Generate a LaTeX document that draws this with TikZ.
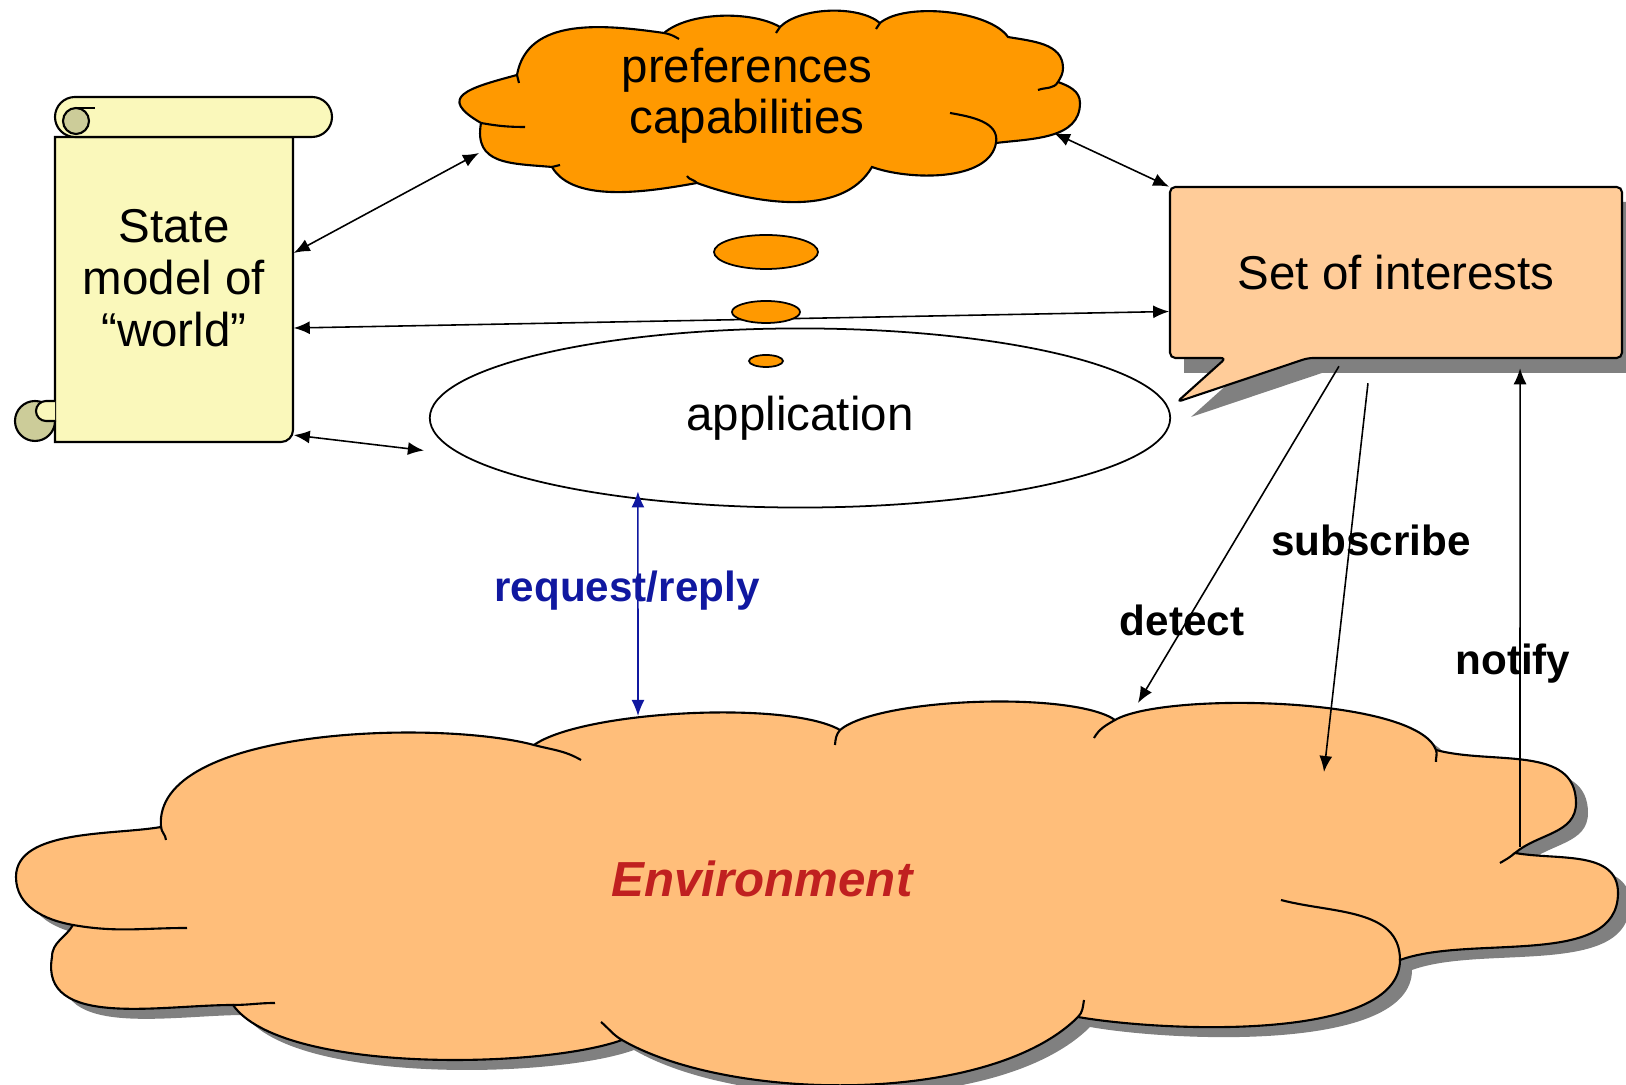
\documentclass[tikz,border=0pt]{standalone}
\usepackage{fontspec}
\setmainfont{Liberation Sans}
\usepackage{tikz}
\usetikzlibrary{arrows.meta}
\usetikzlibrary{shapes.geometric}
\definecolor{ScrollYellow}{RGB}{250,248,187}
\definecolor{ScrollCurl}{RGB}{204,204,153}
\definecolor{PrefOrange}{RGB}{255,153,0}
\definecolor{InterestPeach}{RGB}{255,204,153}
\definecolor{EnvPeach}{RGB}{255,190,122}
\definecolor{ShadowGray}{RGB}{128,128,128}
\definecolor{ReqBlue}{RGB}{16,24,160}
\definecolor{EnvRed}{RGB}{192,32,32}
\newcommand{\EnvCloudPath}{(161,258)
to[out=95,in=165,looseness=0.67] (534,340)
to[out=35,in=150,looseness=0.5] (840,355)
to[out=40,in=145,looseness=0.47] (1115,365)
to[out=30,in=110,looseness=0.45] (1436,335)
to[out=-15,in=90] (1576,282)
to[out=-90,in=40] (1515,232)
to[out=-10,in=90] (1618,192)
to[out=-90,in=20,looseness=0.85] (1400,125)
to[out=-90,in=-10,looseness=0.65] (1078,68)
to[out=225,in=-30,looseness=0.7] (622,45)
to[out=200,in=-55,looseness=0.55] (233,80)
to[out=180,in=-100] (52,128)
to[out=90,in=-120] (73,160)
to[out=170,in=-90] (16,208)
to[out=90,in=190,looseness=0.8] (161,258) -- cycle}
\newcommand{\PrefCloudPath}{(481,962)
to[out=150,in=195,looseness=2.2] (517,1010)
to[out=80,in=172] (664,1052)
to[out=40,in=150,looseness=0.73] (780,1058)
to[out=45,in=140,looseness=0.72] (880,1062)
to[out=40,in=125,looseness=0.65] (1008,1048)
to[out=-10,in=90] (1063,1017)
to[out=-90,in=60] (1058,1003)
to[out=-20,in=90] (1080,982)
to[out=-90,in=7] (996,942)
to[out=-100,in=-20,looseness=0.8] (872,918)
to[out=-120,in=-20,looseness=0.87] (697,902)
to[out=190,in=-60,looseness=0.77] (552,918)
to[out=175,in=-100,looseness=1.3] (481,962) -- cycle}
\newcommand{\InterestPath}{(1170,898) -- (1622,898) -- (1622,727) -- (1308,727)
-- (1177,683) -- (1226,727) -- (1170,727) -- cycle}
\begin{document}
\begin{tikzpicture}
[x=0.01cm,y=0.01cm,
cloudline/.style={draw=black,line width=0.6pt},
scrollpaper/.style={draw=black,line width=0.6pt,fill=ScrollYellow},
scrollcurl/.style={draw=black,line width=0.6pt,fill=ScrollCurl},
thoughtnode/.style={draw=black,line width=0.5pt,fill=PrefOrange},
bignode/.style={inner sep=0pt,align=center,font=\fontsize{13.5}{14.8}\selectfont},
verblabel/.style={inner sep=1pt,font=\fontsize{12}{14}\selectfont\bfseries},
twoway/.style={line width=0.45pt,{Latex[length=1.6mm,width=1.3mm]}-{Latex[length=1.6mm,width=1.3mm]}},
oneway/.style={line width=0.45pt,-{Latex[length=1.6mm,width=1.3mm]}}
]
\useasboundingbox (0,0) rectangle (1626,1085);
\fill[ShadowGray,shift={(12,-10)}] \EnvCloudPath;
\filldraw[cloudline,fill=EnvPeach] \EnvCloudPath;
\draw[cloudline] (161,258) to[out=-85,in=95] (166,245);
\draw[cloudline] (534,340) to[out=-15,in=150] (581,325);
\draw[cloudline] (840,355) to[out=230,in=85] (835,340);
\draw[cloudline] (1115,365) to[out=210,in=60] (1094,347);
\draw[cloudline] (1436,335) to[out=-70,in=95] (1436,323);
\draw[cloudline] (1515,232) to[out=220,in=30] (1500,222);
\draw[cloudline] (1400,125) to[out=90,in=-15] (1281,185);
\draw[cloudline] (1078,68) to[out=45,in=-100] (1084,85);
\draw[cloudline] (622,45) to[out=150,in=-40] (601,63);
\draw[cloudline] (233,80) to[out=0,in=180] (275,82);
\draw[cloudline] (73,160) to[out=-10,in=180] (187,157);
\filldraw[cloudline,fill=PrefOrange] \PrefCloudPath;
\draw[cloudline] (517,1010) -- (519,1002);
\draw[cloudline] (664,1052) to[out=-10,in=150] (679,1046);
\draw[cloudline] (780,1058) -- (776,1052);
\draw[cloudline] (880,1062) -- (876,1056);
\draw[cloudline] (1058,1003) to[out=240,in=20] (1038,995);
\draw[cloudline] (950,972) to[out=-10,in=80] (996,942);
\draw[cloudline] (697,902) to[out=130,in=-60] (687,909);
\draw[cloudline] (552,918) -- (560,920);
\draw[cloudline] (481,962) to[out=-10,in=180] (525,958);
\draw[scrollpaper] (55,643) -- (55,948) -- (293,948) -- (293,655)
arc[start angle=0,end angle=-90,radius=12] -- cycle;
\draw[scrollpaper,rounded corners=0.2cm] (55,948) rectangle (332,988);
\draw[scrollcurl] (76,964) circle[radius=13];
\draw[scrollpaper] (76,977) -- (95,977);
\draw[scrollcurl] (35,664) circle[radius=20];
\draw[scrollpaper] (55,684) -- (46,684) arc[start angle=90,end angle=270,radius=10] -- (55,664);
\fill[ShadowGray,shift={(14,-15)}] \InterestPath;
\filldraw[cloudline,fill=InterestPeach,rounded corners=1.5pt] \InterestPath;
\node[bignode,minimum width=2.38cm,minimum height=3.05cm] (world) at (174,807)
{State\\model of\\“world”};
\node[bignode,font=\fontsize{13.5}{14.5}\selectfont] (pref) at (747,989) {preferences\\capabilities};
\node[bignode,minimum width=4.52cm,minimum height=1.71cm] (interests) at (1396,812)
{Set of interests};
\node[bignode,ellipse,draw=black,line width=0.5pt,fill=white,minimum width=7.4cm,
minimum height=1.79cm] (app) at (800,667) {application};
\node[font=\fontsize{14}{16}\selectfont\bfseries\itshape,text=EnvRed] (env) at (762,206) {Environment};
\coordinate (pref-w) at (479,932);
\coordinate (pref-e) at (1054,952);
\coordinate (env-req) at (638,369);
\coordinate (env-detect) at (1138,382);
\coordinate (env-sub) at (1324,313);
\coordinate (env-notify) at (1520,238);
\draw[twoway] ([yshift=0.25cm]world.east) -- (pref-w);
\draw[twoway] (pref-e) -- (interests.north west);
\draw[twoway] ([yshift=-0.5cm]world.east) -- ([yshift=-0.385cm]interests.west);
\draw[twoway] ([yshift=-1.57cm]world.east) -- ([xshift=-0.05cm,yshift=-0.325cm]app.west);
\draw[twoway,ReqBlue] ([xshift=-1.62cm,yshift=0.17cm]app.south) -- (env-req);
\draw[oneway] ([xshift=-0.57cm,yshift=-0.07cm]interests.south) -- (env-detect);
\draw[oneway] ([xshift=-0.28cm,yshift=-0.24cm]interests.south) -- (env-sub);
\draw[oneway] (env-notify) -- ([xshift=1.24cm,yshift=-0.09cm]interests.south);
\draw[thoughtnode] (766,833) ellipse[x radius=52,y radius=17];
\draw[thoughtnode] (766,773) ellipse[x radius=34,y radius=11];
\draw[thoughtnode] (766,724) ellipse[x radius=17,y radius=6];
\node[verblabel,text=ReqBlue] (reqlabel) at (627,494) {request/reply};
\node[verblabel] (detectlabel) at (1182,465) {detect};
\node[verblabel] (sublabel) at (1371,545) {subscribe};
\node[verblabel] (notifylabel) at (1513,421) {notify};
\end{tikzpicture}
\end{document}
